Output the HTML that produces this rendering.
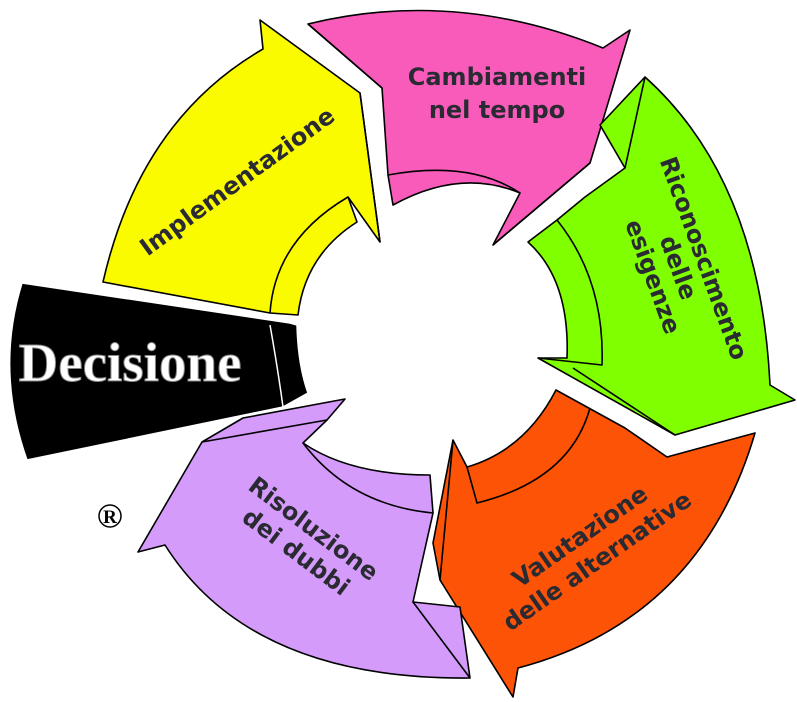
<!DOCTYPE html>
<html><head><meta charset="utf-8"><style>
html,body{margin:0;padding:0;background:#fff;}
svg{display:block}
text{font-family:"DejaVu Sans","Liberation Sans",sans-serif;font-weight:bold;fill:#2a2a33}
</style></head><body>
<svg width="797" height="702" viewBox="0 0 797 702" xmlns="http://www.w3.org/2000/svg">
<g stroke="#000" stroke-width="1.6" stroke-linejoin="round">
<path d="M308,24 Q455,-12 603,48 L630,30 L590,163 L493,245 L520,193 Q460,168 393,205 L388,175 L382,88 Z" fill="#f95bbb"/>
<path d="M388,175 Q470,160 520,193 M308,24 L382,88 M493,245 L590,163" fill="none"/>
<path d="M260,20 L263,49 Q140,120 103,282 L270,313 L298,315 Q305,255 357,222 L348,197 L380,242 L360,93 Z" fill="#fbfb00"/>
<path d="M270,313 Q275,240 348,197 M360,93 L380,242" fill="none"/>
<path d="M556,390 L625,428 L667,457 L755,433 Q700,620 518,668 L513,697 L440,580 L433,543 L453,440 L467,467 Q525,450 556,390 Z" fill="#fc5306"/>
<path d="M590,408 Q570,480 477,503 L467,467 M453,440 L440,580" fill="none"/>
<path d="M645,77 Q760,180 770,385 L795,400 L675,435 L538,358 L567,358 Q570,280 528,242 L557,220 L585,197 L625,168 L600,125 Z" fill="#80ff00"/>
<path d="M557,220 Q605,280 602,365 L538,358 M573,368 L675,435 M625,168 L645,77" fill="none"/>
<path d="M345,399 L327,420 L303,443 Q350,475 430,475 L433,513 L413,602 L460,607 L470,678 Q250,680 165,545 L138,552 L202,442 L243,418 Z" fill="#d59bfb"/>
<path d="M303,443 Q350,505 433,513 M202,442 L327,420 M413,602 L470,678" fill="none"/>
</g>
<path d="M22,283 L290,323 L297,325 Q298,365 308,393 L283,407 L27,460 Q-5,370 22,283 Z" fill="#000" stroke="#fff" stroke-width="1.5"/>
<path d="M270,325 Q278,370 283,407" stroke="#fff" stroke-width="1.5" fill="none"/>
<text x="130" y="381" text-anchor="middle" style="font-family:'Liberation Serif',serif;font-size:55px;fill:#fff;stroke:#888;stroke-width:1">Decisione</text>
<circle cx="110" cy="516" r="11" fill="#fff" stroke="#000" stroke-width="1.5"/>
<text x="110" y="523" text-anchor="middle" style="font-family:'Liberation Serif',serif;font-size:19px;fill:#000">R</text>
<text x="497" y="85" text-anchor="middle" font-size="24">Cambiamenti</text>
<text x="497" y="118" text-anchor="middle" font-size="24">nel tempo</text>
<text transform="translate(242,188) rotate(-36)" text-anchor="middle" font-size="24">Implementazione</text>
<g transform="translate(666,272) rotate(70)">
<text x="0" y="-32" text-anchor="middle" font-size="24">Riconoscimento</text>
<text x="0" y="-5" text-anchor="middle" font-size="24">delle</text>
<text x="0" y="22" text-anchor="middle" font-size="24">esigenze</text>
</g>
<g transform="translate(588,548) rotate(-35)">
<text x="0" y="-6" text-anchor="middle" font-size="24">Valutazione</text>
<text x="0" y="24" text-anchor="middle" font-size="24">delle alternative</text>
</g>
<g transform="translate(305,540) rotate(37)">
<text x="0" y="-6" text-anchor="middle" font-size="24">Risoluzione</text>
<text x="0" y="23" text-anchor="middle" font-size="24">dei dubbi</text>
</g>
</svg>
</body></html>
